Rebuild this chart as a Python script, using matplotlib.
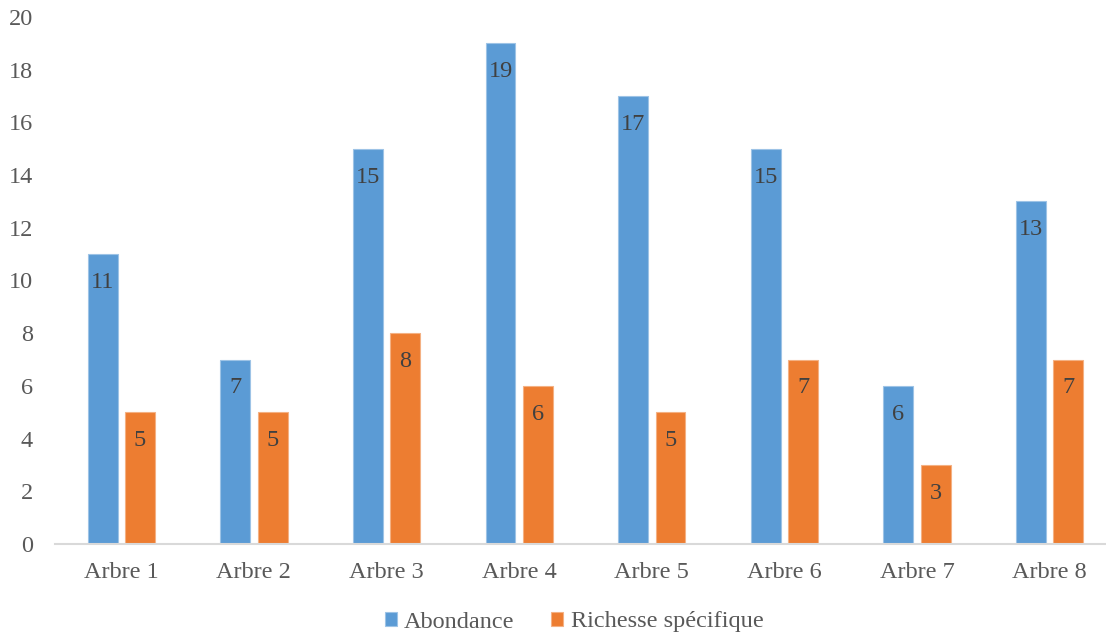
import numpy as np
import matplotlib.pyplot as plt

categories = ["Arbre 1", "Arbre 2", "Arbre 3", "Arbre 4", "Arbre 5", "Arbre 6", "Arbre 7", "Arbre 8"]
abondance = [11, 7, 15, 19, 17, 15, 6, 13]
richesse = [5, 5, 8, 6, 5, 7, 3, 7]
yticks = [0, 2, 4, 6, 8, 10, 12, 14, 16, 18, 20]

BLUE = "#5B9BD5"
ORANGE = "#ED7D31"
TICK_COL = "#595959"
LABEL_COL = "#404040"
FS = 17.5

plt.rcParams["font.family"] = ["Liberation Serif", "DejaVu Serif"]

W, H = 1106, 636
fig = plt.figure(figsize=(W / 100, H / 100), dpi=100)
# axes runs a bit past the right edge, like the original
left, right = 55, 1116
bottom, top = 544, 17
ax = fig.add_axes([left / W, 1 - bottom / H, (right - left) / W, (bottom - top) / H])

x = np.arange(len(categories))
bw = 0.226
off = 0.141
b1 = ax.bar(x - off, abondance, bw, color=BLUE, edgecolor="#9DC3E6", linewidth=0.8, label="Abondance")
b2 = ax.bar(x + off, richesse, bw, color=ORANGE, edgecolor="#F4B183", linewidth=0.8, label="Richesse spécifique")

for bars in (b1, b2):
    ax.bar_label(bars, labels=[str(int(b.get_height())) for b in bars], label_type="edge",
                 padding=-28, fontsize=FS, color=LABEL_COL)

ax.set_xlim(-0.5, len(categories) - 0.5)
ax.set_ylim(0, 20)
ax.set_yticks(yticks)
ax.set_xticks(x)
ax.set_xticklabels(categories)
ax.tick_params(axis="both", length=0, labelsize=FS, labelcolor=TICK_COL)
ax.tick_params(axis="x", pad=13)
ax.tick_params(axis="y", pad=16)

for s in ("top", "right", "left"):
    ax.spines[s].set_visible(False)
ax.spines["bottom"].set_color("#D9D9D9")
ax.spines["bottom"].set_linewidth(1.5)

fig.legend(handles=[b1, b2], loc="center", bbox_to_anchor=(574 / W, 1 - 622 / H),
           ncol=2, frameon=False, fontsize=FS, labelcolor=TICK_COL,
           handlelength=0.5, handleheight=0.5, handletextpad=0.3, columnspacing=1.5)

fig.savefig("out.png", dpi=100)
